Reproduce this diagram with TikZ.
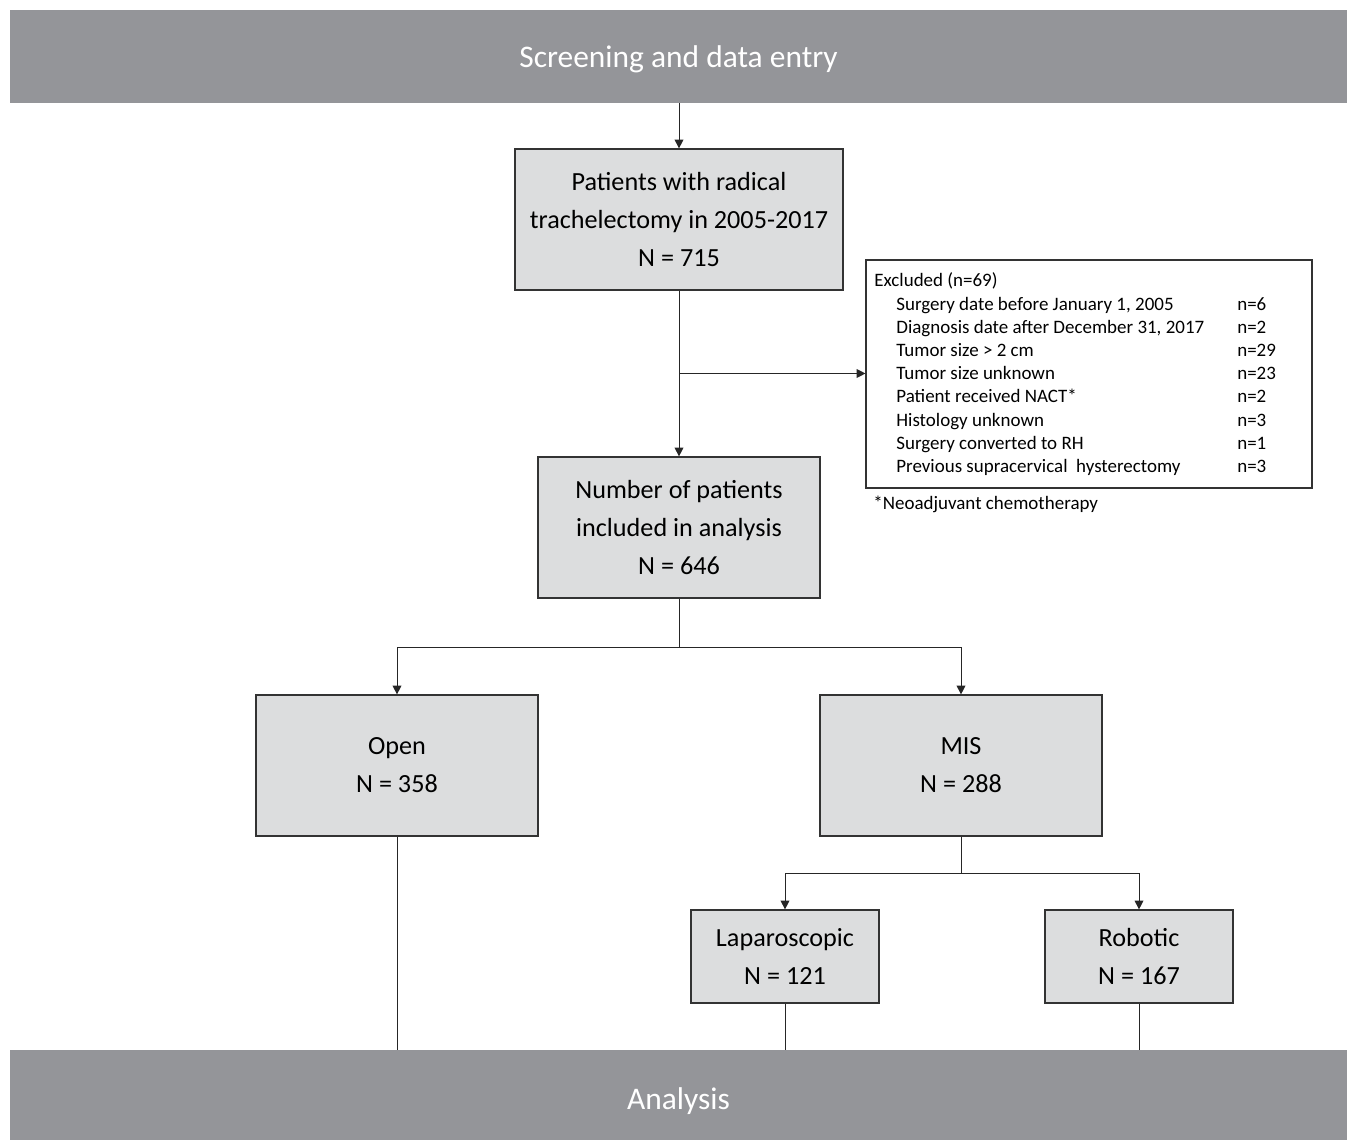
\documentclass[tikz,border=0pt]{standalone}
\usepackage{fontspec}
\setmainfont{Carlito}
\usetikzlibrary{arrows.meta, calc, positioning}

\definecolor{bannergray}{HTML}{949599}
\definecolor{boxgray}{HTML}{DCDDDE}

\tikzset{
  banner/.style={fill=bannergray, text=white, minimum width=26.74cm, inner sep=0pt, font=\fontsize{17.9}{21}\selectfont},
  stagebox/.style={draw=black!80, fill=boxgray, line width=0.7pt, align=center, inner sep=0pt, font=\fontsize{14.9}{21.6}\selectfont},
  exclbox/.style={draw=black!80, line width=0.7pt, minimum width=8.92cm, minimum height=4.56cm, inner sep=0pt},
  link/.style={line width=0.55pt, black!85},
  arr/.style={link, -{Triangle[length=5pt,width=5pt]}},
}

\begin{document}
\begin{tikzpicture}[x=0.02cm, y=-0.02cm]
\useasboundingbox (0,0) rectangle (1354,1141);

% stage banners
\node[banner, minimum height=1.86cm] (screen) at (678.5,56.5) {};
\node[banner, minimum height=1.80cm] (analysis) at (678.5,1095) {};
\node[text=white, inner sep=0pt, font=\fontsize{17.9}{21}\selectfont] (screentext) at (678.5,59) {Screening and data entry};
\node[text=white, inner sep=0pt, font=\fontsize{17.9}{21}\selectfont] (analysistext) at (678.5,1101) {Analysis};

% boxes
\node[stagebox, minimum width=6.56cm, minimum height=2.82cm] (total) at (679,219.5)
  {Patients with radical\\trachelectomy in 2005-2017\\N = 715};
\node[stagebox, minimum width=5.64cm, minimum height=2.82cm] (included) at (679,527.5)
  {Number of patients\\included in analysis\\N = 646};
\node[stagebox, minimum width=5.64cm, minimum height=2.82cm] (open) at (397,765.5)
  {Open\\N = 358};
\node[stagebox, minimum width=5.64cm, minimum height=2.82cm] (mis) at (961,765.5)
  {MIS\\N = 288};
\node[stagebox, minimum width=3.76cm, minimum height=1.86cm] (lap) at (785,956.5)
  {Laparoscopic\\N = 121};
\node[stagebox, minimum width=3.76cm, minimum height=1.86cm] (robot) at (1139,956.5)
  {Robotic\\N = 167};

% excluded
\node[exclbox] (excl) at (1089,374) {};
\node[anchor=west, inner sep=0pt, font=\fontsize{10.8}{13.2}\selectfont] (excltext) at (874,375)
  {\begin{tabular}{@{}p{7.26cm}@{}l@{}}
   Excluded (n=69) & \\
   \hspace{0.44cm}Surgery date before January 1, 2005 & n=6\\
   \hspace{0.44cm}Diagnosis date after December 31, 2017 & n=2\\
   \hspace{0.44cm}Tumor size > 2 cm & n=29\\
   \hspace{0.44cm}Tumor size unknown & n=23\\
   \hspace{0.44cm}Patient received NACT* & n=2\\
   \hspace{0.44cm}Histology unknown & n=3\\
   \hspace{0.44cm}Surgery converted to RH & n=1\\
   \hspace{0.44cm}Previous supracervical\ \ hysterectomy & n=3
   \end{tabular}};
\node[anchor=west, inner sep=0pt, font=\fontsize{10.8}{13.2}\selectfont] (footnote) at (873,504)
  {*Neoadjuvant chemotherapy};

% connectors
\draw[arr] (screen.south -| total.north) -- (total.north);
\draw[arr] (total.south) -- (included.north);
\coordinate (split) at ($(total.south)!0.5!(included.north)$);
\draw[arr] (split) -- (split -| excl.west);

\coordinate (fork1) at (679,647);
\draw[link] (included.south) -- (fork1);
\draw[arr] (fork1) -| (open.north);
\draw[arr] (fork1) -| (mis.north);

\coordinate (fork2) at (961,873);
\draw[link] (mis.south) -- (fork2);
\draw[arr] (fork2) -| (lap.north);
\draw[arr] (fork2) -| (robot.north);

\draw[link] (open.south) -- (open.south |- analysis.north);
\draw[link] (lap.south) -- (lap.south |- analysis.north);
\draw[link] (robot.south) -- (robot.south |- analysis.north);
\end{tikzpicture}
\end{document}
